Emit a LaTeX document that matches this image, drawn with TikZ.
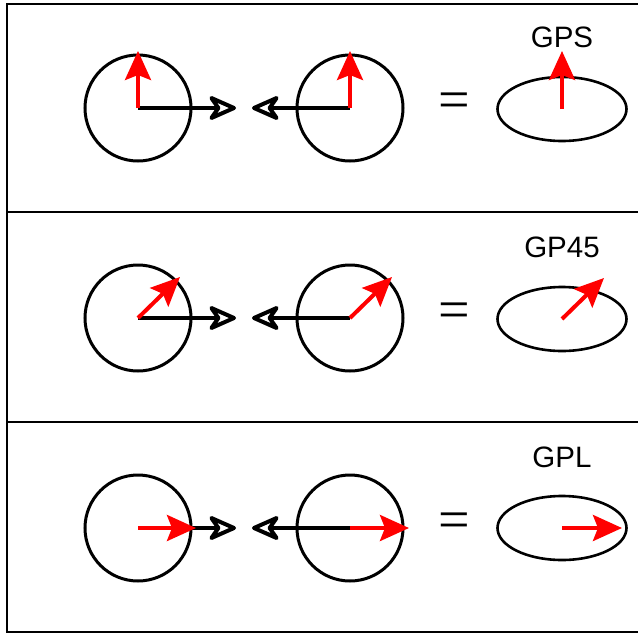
\documentclass[tikz,border=0pt]{standalone}
\usepackage{fontspec}
\newfontfamily\labelfont{Liberation Sans}
\newfontfamily\eqfont{Liberation Serif}
\usetikzlibrary{arrows.meta,shapes.geometric}
\begin{document}
\begin{tikzpicture}[x=1pt,y=-1pt,
  ring/.style={circle,draw=black,line width=3pt,minimum size=106pt,inner sep=0pt},
  oval/.style={ellipse,draw=black,line width=2.6pt,minimum width=129pt,minimum height=64pt,inner sep=0pt},
  push/.style={line width=4.4pt,black,-{Stealth[open,length=33pt,width=29pt,inset=10pt,line width=4pt,round]}},
  spin/.style={line width=4pt,red,-{Stealth[length=29pt,width=26pt,inset=5pt]}},
  lbl/.style={font=\labelfont\fontsize{29.5}{29.5}\selectfont,inner sep=0pt},
  eq/.style={font=\eqfont\fontsize{56}{56}\selectfont,inner sep=0pt},
  frame/.style={line width=2.4pt}]
\useasboundingbox (0,0) rectangle (638,633);
\draw[frame] (660,4) -- (7,4) -- (7,632) -- (660,632);
\draw[frame] (7,212) -- (660,212);
\draw[frame] (7,422) -- (660,422);
% Panel 1
\node[ring] (a1) at (138,108) {};
\node[ring] (b1) at (350,108) {};
\node[oval] (e1) at (562,109) {};
\coordinate (pa1) at (236,108);
\coordinate (pb1) at (252,108);
\coordinate (ra1) at (138,51);
\coordinate (rb1) at (350,51);
\coordinate (re1) at (562,51);
\draw[push] (a1.center) -- (pa1);
\draw[push] (b1.center) -- (pb1);
\draw[spin] (a1.center) -- (ra1);
\draw[spin] (b1.center) -- (rb1);
\draw[spin] (e1.center) -- (re1);
\node[eq] (q1) at (454,106) {=};
\node[lbl] (t1) at (562,37) {GPS};
% Panel 2
\node[ring] (a2) at (138,318) {};
\node[ring] (b2) at (350,318) {};
\node[oval] (e2) at (562,319) {};
\coordinate (pa2) at (236,318);
\coordinate (pb2) at (252,318);
\coordinate (ra2) at (180,277);
\coordinate (rb2) at (392,277);
\coordinate (re2) at (604,278);
\draw[push] (a2.center) -- (pa2);
\draw[push] (b2.center) -- (pb2);
\draw[spin] (a2.center) -- (ra2);
\draw[spin] (b2.center) -- (rb2);
\draw[spin] (e2.center) -- (re2);
\node[eq] (q2) at (454,316) {=};
\node[lbl] (t2) at (562,247) {GP45};
% Panel 3
\node[ring] (a3) at (138,528) {};
\node[ring] (b3) at (350,528) {};
\node[oval] (e3) at (562,528) {};
\coordinate (pa3) at (236,528);
\coordinate (pb3) at (252,528);
\coordinate (ra3) at (196,528);
\coordinate (rb3) at (409,528);
\coordinate (re3) at (622,528);
\draw[push] (a3.center) -- (pa3);
\draw[push] (b3.center) -- (pb3);
\draw[spin] (a3.center) -- (ra3);
\draw[spin] (b3.center) -- (rb3);
\draw[spin] (e3.center) -- (re3);
\node[eq] (q3) at (454,526) {=};
\node[lbl] (t3) at (562,457) {GPL};
\end{tikzpicture}
\end{document}
